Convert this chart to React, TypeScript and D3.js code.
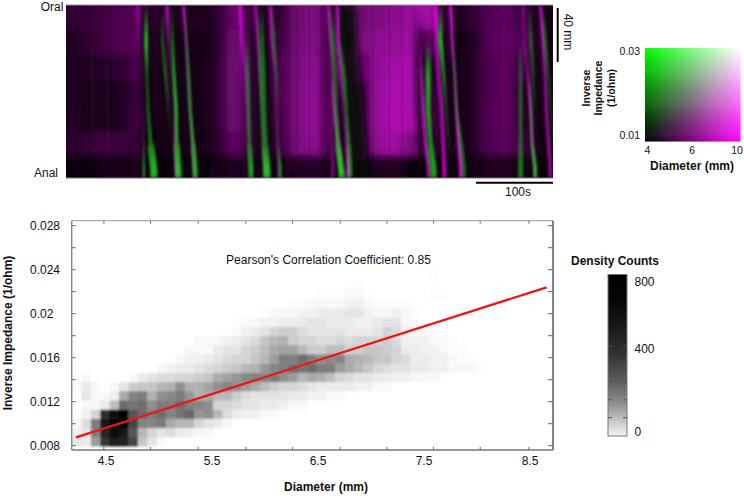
import { useEffect, useRef } from 'react';
import * as d3 from 'd3';

// ---- motility map (top panel) ----
const bgTimes = [10, 31, 52, 73, 94, 114, 135, 156, 177, 197, 218, 239, 260, 280, 301, 322, 343, 364, 384, 405, 426, 447, 468, 488, 509, 530, 551, 571, 592, 613];
const bgPositions = [9, 28, 47, 66, 85, 104, 120];
// magenta level (0-100) for each position row, one value per bgTimes entry
const bgMagenta = [
  [22, 26, 30, 36, 38, 20, 12, 12, 12, 18, 48, 30, 15, 22, 50, 58, 28, 20, 50, 56, 62, 70, 82, 20, 12, 22, 38, 42, 28, 10],
  [16, 22, 30, 36, 40, 15, 8, 8, 8, 16, 50, 28, 12, 28, 52, 60, 25, 15, 55, 64, 66, 72, 48, 15, 10, 12, 38, 44, 36, 10],
  [14, 16, 18, 22, 34, 12, 8, 8, 8, 18, 52, 28, 12, 35, 54, 64, 25, 15, 46, 66, 74, 78, 25, 12, 8, 15, 36, 44, 26, 8],
  [14, 13, 12, 14, 28, 12, 8, 8, 8, 18, 52, 26, 12, 36, 56, 66, 25, 10, 15, 68, 78, 78, 32, 12, 8, 15, 36, 44, 15, 8],
  [16, 13, 12, 14, 30, 12, 8, 8, 8, 18, 50, 26, 12, 32, 56, 68, 28, 8, 12, 70, 78, 78, 38, 12, 8, 15, 38, 44, 15, 8],
  [20, 24, 30, 26, 24, 10, 8, 8, 8, 16, 44, 24, 12, 26, 54, 64, 25, 8, 15, 66, 72, 56, 28, 12, 8, 15, 36, 42, 26, 8],
  [7, 7, 8, 10, 12, 8, 6, 6, 6, 8, 14, 12, 8, 8, 16, 18, 10, 6, 8, 14, 16, 4, 6, 8, 6, 8, 12, 12, 10, 6],
];
const streakTimes = [6, 14, 22, 30, 44, 58, 66, 80, 96, 104, 122, 150, 208, 246, 300, 316, 330, 398, 420, 436, 452, 530, 560, 582];

const trackPositions = [0, 26, 52, 78, 104, 122, 129];
// each track: seconds and strength (0-100) at trackPositions
const darkTracks = [
  { width: 18, bottomWidth: 18, times: [364, 366, 370, 374, 378, 381, 382], levels: [70, 80, 85, 90, 90, 80, 80] },
  { width: 12, bottomWidth: 12, times: [250, 252, 254, 256, 258, 260, 261], levels: [30, 60, 70, 70, 70, 70, 70] },
  { width: 12, bottomWidth: 12, times: [458, 460, 462, 464, 467, 470, 470], levels: [0, 40, 70, 80, 70, 60, 60] },
  { width: 10, bottomWidth: 10, times: [104, 105, 106, 108, 111, 114, 114], levels: [40, 60, 60, 60, 50, 40, 40] },
];
const magentaTracks = [
  { width: 3, bottomWidth: 3, times: [93.5, 94, 95, 96, 97, 98, 98], levels: [60, 15, 0, 0, 0, 0, 0] },
  { width: 3, bottomWidth: 3, times: [131, 132, 134, 136, 138, 140, 140], levels: [90, 30, 10, 0, 0, 0, 0] },
  { width: 2.5, bottomWidth: 3, times: [135, 136, 138, 140, 141, 143, 143], levels: [0, 0, 0, 10, 40, 70, 70] },
  { width: 2.5, bottomWidth: 3, times: [152, 156, 158, 161, 164, 166, 166.5], levels: [90, 50, 40, 40, 50, 70, 70] },
  { width: 4, bottomWidth: 4, times: [226, 228, 231, 233, 235, 236, 236], levels: [75, 60, 20, 10, 0, 0, 0] },
  { width: 3, bottomWidth: 3, times: [245.5, 248, 251, 254.5, 257, 258, 258], levels: [70, 45, 30, 30, 30, 65, 65] },
  { width: 3, bottomWidth: 2.5, times: [265, 266, 270, 272, 274.5, 276, 276], levels: [75, 45, 10, 10, 15, 30, 30] },
  { width: 2.5, bottomWidth: 3, times: [340, 342, 344, 348, 353, 357, 357], levels: [70, 30, 20, 70, 80, 90, 90] },
  { width: 2.5, bottomWidth: 3, times: [352, 353, 356, 360, 364, 366, 366], levels: [90, 90, 70, 30, 50, 90, 90] },
  { width: 2.5, bottomWidth: 2.5, times: [341, 342, 343, 344, 345, 346, 346], levels: [0, 0, 0, 20, 30, 60, 60] },
  { width: 3, bottomWidth: 3, times: [479, 480, 483, 487, 489.5, 491, 491], levels: [100, 60, 70, 70, 80, 90, 90] },
  { width: 3, bottomWidth: 3, times: [499, 501, 504, 506.5, 509, 512, 512], levels: [100, 70, 40, 60, 70, 90, 90] },
  { width: 2.5, bottomWidth: 2.5, times: [457, 459, 461, 463, 466, 470, 470], levels: [0, 0, 70, 90, 80, 80, 80] },
  { width: 2.5, bottomWidth: 2.5, times: [593.5, 595, 599, 603, 605, 608, 608], levels: [50, 30, 50, 90, 80, 70, 70] },
  { width: 2.5, bottomWidth: 2.5, times: [615.5, 618, 621, 623, 626, 628.5, 628.5], levels: [90, 70, 60, 70, 70, 80, 80] },
];
const greenTracks = [
  { width: 3.5, bottomWidth: 7, times: [104, 104, 105, 106.5, 110, 114, 114], levels: [0, 95, 30, 35, 55, 85, 85] },
  { width: 2, bottomWidth: 2.5, times: [101, 101, 101, 101, 101, 101, 101], levels: [0, 0, 0, 0, 15, 60, 60] },
  { width: 3, bottomWidth: 3, times: [125, 125, 129, 133, 136, 138, 138], levels: [0, 35, 45, 15, 0, 0, 0] },
  { width: 3.5, bottomWidth: 6, times: [137, 138, 140, 143, 144, 145.5, 147], levels: [0, 40, 70, 80, 65, 85, 85] },
  { width: 3.5, bottomWidth: 5, times: [154, 156, 159, 161, 165, 167.5, 168], levels: [0, 25, 50, 55, 65, 75, 75] },
  { width: 3.5, bottomWidth: 5, times: [234, 235, 236, 237, 238, 240, 240], levels: [0, 10, 50, 50, 50, 75, 75] },
  { width: 6, bottomWidth: 7, times: [253, 253.5, 255, 256, 258, 260.5, 261], levels: [0, 40, 50, 45, 45, 90, 90] },
  { width: 3, bottomWidth: 3.5, times: [269, 270, 273, 274, 275, 278, 278], levels: [0, 45, 30, 10, 15, 55, 55] },
  { width: 4.5, bottomWidth: 6, times: [343, 346, 349, 350, 353, 357, 358], levels: [0, 50, 40, 40, 65, 90, 90] },
  { width: 3, bottomWidth: 4, times: [355, 356, 361, 364, 367.5, 369, 369], levels: [0, 10, 55, 40, 50, 60, 60] },
  { width: 5, bottomWidth: 6, times: [470, 470, 470, 470, 473, 477, 477], levels: [0, 0, 75, 65, 55, 75, 75] },
  { width: 4, bottomWidth: 4, times: [486, 486, 490, 493, 497, 500, 500], levels: [0, 85, 45, 20, 10, 0, 0] },
  { width: 3, bottomWidth: 3.5, times: [500, 502, 505, 507, 513, 517, 517], levels: [0, 10, 30, 40, 50, 45, 45] },
  { width: 4, bottomWidth: 4, times: [601, 603, 606, 608, 610, 612, 612], levels: [0, 40, 25, 10, 0, 0, 0] },
  { width: 4, bottomWidth: 5, times: [590, 590, 590, 590, 590, 590, 590], levels: [0, 0, 35, 40, 40, 55, 55] },
  { width: 3, bottomWidth: 4, times: [598, 600, 602, 603, 605, 609, 609], levels: [0, 0, 0, 40, 50, 75, 75] },
  { width: 3, bottomWidth: 3, times: [620, 622, 626, 629, 631, 632, 632], levels: [0, 50, 30, 20, 10, 0, 0] },
  { width: 1.2, bottomWidth: 1.2, times: [34, 34, 34, 35, 36, 36, 36], levels: [0, 0, 20, 20, 0, 0, 0] },
  { width: 1.2, bottomWidth: 1.2, times: [52, 52, 53, 54, 55, 55, 55], levels: [0, 0, 15, 20, 10, 0, 0] },
];

// ---- colour key ----
const keyDiameterTicks = [4, 6, 10];
const keyImpedanceTicks = [0.03, 0.01];

// ---- density plot (bottom panel) ----
const xLabels = [4.5, 5.5, 6.5, 7.5, 8.5];
const xTickMarks = [4.48, 4.92, 5.37, 5.82, 6.26, 6.71, 7.15, 7.59, 8.03, 8.49];
const yLabels = [0.028, 0.024, 0.02, 0.016, 0.012, 0.008];
const yTickMarks = [0.028, 0.026, 0.024, 0.022, 0.02, 0.018, 0.016, 0.014, 0.012, 0.01, 0.008];
const fitDiameter = [4.217, 8.657];
const fitImpedance = [0.00876, 0.0224];
const barTicks = [0, 400, 800];
const barMarks = [100, 200, 300, 400, 500];

// counts / 10, bottom row first, one value per bin from the left edge
const densityRows = [
  [4, 3, 14, 45, 62, 56, 35, 8, 4, 1],
  [2, 4, 20, 55, 70, 65, 30, 10, 6, 4, 5, 3, 2, 1, 1],
  [1, 5, 20, 68, 80, 80, 35, 18, 18, 20, 12, 10, 10, 6, 4, 3, 1],
  [0, 2, 6, 50, 70, 78, 30, 25, 20, 24, 18, 22, 26, 15, 16, 10, 5, 3, 2, 2, 1, 1],
  [0, 1, 1, 3, 9, 25, 22, 24, 16, 20, 20, 24, 19, 18, 16, 6, 6, 5, 4, 4, 3, 3, 2, 1, 1],
  [0, 4, 1, 1, 2, 12, 18, 20, 11, 16, 17, 20, 15, 11, 12, 10, 10, 7, 5, 4, 4, 4, 4, 3, 3, 2, 2, 1, 1],
  [1, 3, 1, 0, 1, 4, 7, 8, 8, 10, 11, 16, 11, 11, 13, 16, 18, 16, 14, 12, 9, 7, 6, 6, 5, 4, 3, 3, 3, 3, 2, 2, 1, 1],
  [0, 1, 0, 0, 0, 0, 1, 3, 4, 5, 5, 6, 6, 7, 8, 12, 13, 15, 17, 18, 18, 20, 16, 14, 10, 12, 11, 9, 6, 5, 4, 4, 3, 3, 2, 2, 1, 1, 1, 0.5],
  [0, 0, 0, 0, 0, 0, 0, 0, 0, 1, 2, 3, 3, 4, 5, 6, 7, 8, 10, 11, 15, 18, 20, 24, 22, 24, 20, 20, 14, 12, 10, 8, 6, 5, 4, 4, 3, 3, 2, 2, 1, 1, 1, 0.5],
  [0, 0, 0, 0, 0, 0, 0, 0, 0, 0, 0, 1, 2, 2, 3, 4, 5, 6, 6, 8, 10, 14, 20, 19, 24, 20, 16, 17, 18, 12, 11, 10, 8, 8, 6, 5, 3, 3, 2, 2, 1, 0.5, 0.5],
  [0, 0, 0, 0, 0, 0, 0, 0, 0, 0, 0, 0, 1, 1, 1, 3, 4, 4, 6, 7, 9, 12, 13, 13, 10, 7, 7, 9, 9, 7, 7, 8, 8, 7, 6, 3, 3, 2, 2, 1, 0.5, 0.5],
  [0, 0, 0, 0, 0, 0, 0, 0, 0, 0, 0, 0, 0, 1, 1, 1, 2, 3, 4, 5, 8, 10, 11, 7, 6, 6, 5, 5, 6, 5, 6, 6, 6, 7, 5, 2, 2, 2, 1, 1, 0.5],
  [0, 0, 0, 0, 0, 0, 0, 0, 0, 0, 0, 0, 0, 0, 0, 0, 0, 1, 2, 3, 4, 6, 7, 7, 5, 4, 4, 4, 4, 3, 3, 3, 4, 6, 5, 2, 1, 1, 0.5],
  [0, 0, 0, 0, 0, 0, 0, 0, 0, 0, 0, 0, 0, 0, 0, 0, 0, 0.5, 1, 1, 2, 2, 3, 3, 3, 4, 4, 3, 3, 3, 2, 2, 3, 4, 4, 1, 0.5],
  [0, 0, 0, 0, 0, 0, 0, 0, 0, 0, 0, 0, 0, 0, 0, 0, 0, 0, 0, 0, 0.5, 1, 1, 1, 2, 2, 3, 3, 3, 4, 4, 2, 1, 1, 2, 1, 0.5],
  [0, 0, 0, 0, 0, 0, 0, 0, 0, 0, 0, 0, 0, 0, 0, 0, 0, 0, 0, 0, 0, 0, 0, 0.5, 0.5, 1, 1, 1, 1, 2, 2, 1, 0.5, 0.5, 0.5, 0.5],
  [0, 0, 0, 0, 0, 0, 0, 0, 0, 0, 0, 0, 0, 0, 0, 0, 0, 0, 0, 0, 0, 0, 0, 0, 0, 0, 0.5, 0.5, 0.5, 1, 1, 0.5, 0, 0, 0, 0, 0, 0, 0.5, 0.5],
  [0, 0, 0, 0, 0, 0, 0, 0, 0, 0, 0, 0, 0, 0, 0, 0, 0, 0, 0, 0, 0, 0, 0, 0, 0, 0, 0, 0, 0, 0.5, 0.5],
  [0, 0, 0, 0, 0, 0, 0, 0, 0, 0, 0, 0, 0, 0, 0, 0, 0, 0, 0, 0, 0, 0, 0, 0, 0, 0, 0, 0, 0, 0, 0, 0, 0, 0, 0, 0, 0, 0, 0.5],
];

const FONT = '"Liberation Sans", Arial, sans-serif';

export default function App() {
  const svgRef = useRef<SVGSVGElement>(null);

  useEffect(() => {
    if (!svgRef.current) return;
    const svg = d3.select(svgRef.current);
    svg.selectAll('*').remove();
    const defs = svg.append('defs');

    const addText = (x: number, y: number, text: string, size = 12, weight = 'normal', anchor = 'middle') =>
      svg.append('text')
        .attr('x', x)
        .attr('y', y)
        .attr('dy', '0.35em')
        .attr('text-anchor', anchor)
        .attr('font-family', FONT)
        .attr('font-size', size)
        .attr('font-weight', weight)
        .attr('fill', '#111')
        .text(text);

    // top panel
    const xTime = d3.scaleLinear().domain([0, 632]).range([66, 553]);
    const yPos = d3.scaleLinear().domain([0, 129]).range([5, 178]);
    const magenta = (v: number) => { const c = Math.round(v * 2.2); return `rgb(${c},${Math.round(c * 0.06)},${Math.round(c * 1.02)})`; };

    defs.append('clipPath').attr('id', 'map-clip').append('rect')
      .attr('x', 66).attr('y', 5).attr('width', 487).attr('height', 173);
    const addBlur = (id: string, dev: string) =>
      defs.append('filter').attr('id', id).attr('filterUnits', 'userSpaceOnUse')
        .attr('x', 40).attr('y', -20).attr('width', 540).attr('height', 230)
        .append('feGaussianBlur').attr('stdDeviation', dev);
    addBlur('blur-bg', '6 3.5');
    addBlur('blur-track', '0.9 2.5');
    addBlur('blur-dark', '3 5');

    const map = svg.append('g').attr('clip-path', 'url(#map-clip)');
    map.append('rect').attr('x', 66).attr('y', 5).attr('width', 487).attr('height', 173).attr('fill', '#140a16');

    const bgLayer = map.append('g').attr('filter', 'url(#blur-bg)');
    const colStep = xTime(bgTimes[1]) - xTime(bgTimes[0]);
    bgMagenta.forEach((row, r) => {
      const y0 = r === 0 ? yPos(0) - 20 : yPos((bgPositions[r - 1] + bgPositions[r]) / 2);
      const y1 = r === bgMagenta.length - 1 ? yPos(129) + 20 : yPos((bgPositions[r] + bgPositions[r + 1]) / 2);
      bgLayer.selectAll(null)
        .data(row)
        .enter()
        .append('rect')
        .attr('x', (_, i) => xTime(bgTimes[i]) - colStep / 2 - (i === 0 ? 20 : 0.5))
        .attr('y', y0)
        .attr('width', (_, i) => colStep + (i === 0 || i === row.length - 1 ? 20 : 1))
        .attr('height', y1 - y0 + 0.5)
        .attr('fill', d => magenta(d));
    });

    map.selectAll('.streak')
      .data(streakTimes)
      .enter()
      .append('line')
      .attr('class', 'streak')
      .attr('x1', d => xTime(d))
      .attr('x2', d => xTime(d))
      .attr('y1', 5)
      .attr('y2', 178)
      .attr('stroke', '#000')
      .attr('stroke-opacity', 0.14)
      .attr('stroke-width', 1.2);

    // every track is cut in short pieces so the strength can change along it
    const drawTrack = (
      layer: d3.Selection<SVGGElement, unknown, null, undefined>,
      t: { width: number; bottomWidth: number; times: number[]; levels: number[] },
      color: string,
    ) => {
      const line = d3.line<number[]>().x(d => xTime(d[0])).y(d => yPos(d[1]));
      t.times.slice(1).forEach((time, i) => {
        const pieces = 4;
        d3.range(pieces).forEach(p => {
          const f0 = p / pieces, f1 = (p + 1) / pieces;
          const lv = t.levels[i] + (t.levels[i + 1] - t.levels[i]) * (f0 + f1) / 2;
          if (lv <= 0) return;
          const a = t.times[i], pa = trackPositions[i], pb = trackPositions[i + 1];
          layer.append('path')
            .attr('d', line([
              [a + (time - a) * f0, pa + (pb - pa) * f0],
              [a + (time - a) * f1, pa + (pb - pa) * f1 + 0.2],
            ]))
            .attr('fill', 'none')
            .attr('stroke', color)
            .attr('stroke-opacity', lv / 100)
            .attr('stroke-width', i >= 4 ? t.bottomWidth : t.width);
        });
      });
    };

    const darkLayer = map.append('g').attr('filter', 'url(#blur-dark)');
    darkTracks.forEach(t => drawTrack(darkLayer as any, t, '#080a08'));
    const trackLayer = map.append('g').attr('filter', 'url(#blur-track)');
    magentaTracks.forEach(t => drawTrack(trackLayer as any, t, '#f000f4'));
    greenTracks.forEach(t => drawTrack(trackLayer as any, t, '#24d424'));

    // frame of the map
    svg.append('line').attr('x1', 66).attr('x2', 553).attr('y1', 5).attr('y2', 5).attr('stroke', '#999').attr('stroke-width', 1);
    svg.append('line').attr('x1', 66).attr('x2', 553).attr('y1', 178).attr('y2', 178).attr('stroke', '#777').attr('stroke-width', 1);

    addText(52, 7, 'Oral');
    addText(46, 173, 'Anal');

    const lengthBar = d3.scaleLinear().domain([0, 40]).range([8, 62]);
    svg.append('line').attr('x1', 557.7).attr('x2', 557.7).attr('y1', lengthBar(0)).attr('y2', lengthBar(40)).attr('stroke', '#000').attr('stroke-width', 2);
    svg.append('text').attr('transform', 'translate(568,32) rotate(90)').attr('dy', '0.35em').attr('text-anchor', 'middle')
      .attr('font-family', FONT).attr('font-size', 12).attr('fill', '#111').text('40 mm');
    svg.append('line').attr('x1', xTime(532)).attr('x2', xTime(632)).attr('y1', 182.7).attr('y2', 182.7).attr('stroke', '#000').attr('stroke-width', 2);
    addText(518, 192, '100s');

    // colour key
    const keyX = d3.scaleLinear().domain([0, 1]).range([645, 740]);
    const keyY = d3.scaleLinear().domain([0, 1]).range([141, 48]);
    const steps = d3.range(0, 1, 1 / 48);
    const key = svg.append('g');
    steps.forEach(u => {
      key.selectAll(null)
        .data(steps)
        .enter()
        .append('rect')
        .attr('x', keyX(u))
        .attr('y', v => keyY(v + 1 / 48))
        .attr('width', keyX(1 / 48) - keyX(0) + 0.5)
        .attr('height', keyY(0) - keyY(1 / 48) + 0.5)
        .attr('fill', v => `rgb(${Math.round((u + 0.01) * 255)},${Math.round((v + 0.01) * 255)},${Math.round((u + 0.01) * 255)})`);
    });
    const keyTickY = d3.scaleLinear().domain([0.01, 0.03]).range([135, 51]);
    keyImpedanceTicks.forEach(t => addText(640, keyTickY(t), `${t}`, 10.5, 'normal', 'end'));
    const keyTickX = d3.scalePoint<number>().domain(keyDiameterTicks).range([647.5, 737]);
    keyDiameterTicks.forEach(t => addText(keyTickX(t) as number, 150, `${t}`, 10.5));
    addText(692, 166, 'Diameter (mm)', 12, 'bold');
    ['Inverse', 'Impedance', '(1/ohm)'].forEach((s, i) => {
      svg.append('text').attr('transform', `translate(${586 + i * 12.5},88) rotate(-90)`).attr('dy', '0.35em')
        .attr('text-anchor', 'middle').attr('font-family', FONT).attr('font-size', 10.5).attr('font-weight', 'bold')
        .attr('fill', '#111').text(s);
    });

    // density plot
    const x = d3.scaleLinear().domain([4.5, 8.5]).range([106, 530]);
    const y = d3.scaleLinear().domain([0.008, 0.028]).range([445.7, 225.7]);
    const left = 71.7, right = 553, top = 220.7, bottom = 450;
    const gray = d3.scaleLinear<string>()
      .domain([0, 1, 4, 9, 17, 35, 80])
      .range(['#ffffff', '#f8f8f8', '#e4e4e4', '#bebebe', '#888888', '#444444', '#000000']);

    defs.append('filter').attr('id', 'blur-cells').attr('filterUnits', 'userSpaceOnUse')
      .attr('x', 60).attr('y', 210).attr('width', 510).attr('height', 250)
      .append('feGaussianBlur').attr('stdDeviation', 0.9);
    const binW = 0.0887, binH = 0.000836, binX0 = x.invert(left + 0.3), binY0 = 0.00797;
    const cells = svg.append('g').attr('filter', 'url(#blur-cells)');
    densityRows.forEach((row, r) => {
      cells.selectAll(null)
        .data(row)
        .enter()
        .append('rect')
        .attr('x', (_, c) => x(binX0 + c * binW))
        .attr('y', y(binY0 + (r + 1) * binH))
        .attr('width', x(binW) - x(0) + 0.4)
        .attr('height', y(0) - y(binH) + 0.4)
        .attr('fill', d => gray(d));
    });

    svg.append('line')
      .attr('x1', x(fitDiameter[0])).attr('y1', y(fitImpedance[0]))
      .attr('x2', x(fitDiameter[1])).attr('y2', y(fitImpedance[1]))
      .attr('stroke', '#f01414').attr('stroke-width', 2.3);

    const tick = (x1: number, y1: number, x2: number, y2: number, c = '#666') =>
      svg.append('line').attr('x1', x1).attr('y1', y1).attr('x2', x2).attr('y2', y2).attr('stroke', c).attr('stroke-width', 1);
    xTickMarks.forEach(t => {
      tick(x(t), bottom, x(t), bottom - 3);
      tick(x(t), top, x(t), top + 3);
    });
    yTickMarks.forEach(t => {
      tick(left, y(t), left + 4, y(t));
      tick(right, y(t), right - 5, y(t));
    });
    svg.append('line').attr('x1', left).attr('x2', right).attr('y1', top).attr('y2', top).attr('stroke', '#aaa').attr('stroke-width', 1.2);
    svg.append('line').attr('x1', left).attr('x2', right).attr('y1', bottom).attr('y2', bottom).attr('stroke', '#777').attr('stroke-width', 1.4);
    svg.append('line').attr('x1', left).attr('x2', left).attr('y1', top).attr('y2', bottom).attr('stroke', '#888').attr('stroke-width', 1.4);
    svg.append('line').attr('x1', right).attr('x2', right).attr('y1', top).attr('y2', bottom).attr('stroke', '#666').attr('stroke-width', 1.6);

    xLabels.forEach(t => addText(x(t), 461, `${t}`));
    yLabels.forEach(t => addText(30, y(t), `${t}`, 12, 'normal', 'start'));
    addText(328.5, 260, "Pearson's Correlation Coefficient: 0.85", 12);
    addText(326, 487, 'Diameter (mm)', 12, 'bold');
    svg.append('text').attr('transform', 'translate(7.5,333) rotate(-90)').attr('dy', '0.35em').attr('text-anchor', 'middle')
      .attr('font-family', FONT).attr('font-size', 12).attr('font-weight', 'bold').attr('fill', '#111').text('Inverse Impedance (1/ohm)');

    // density colour bar
    addText(615, 261, 'Density Counts', 12, 'bold');
    const barGrad = defs.append('linearGradient').attr('id', 'bar-grad').attr('x1', '0%').attr('y1', '100%').attr('x2', '0%').attr('y2', '0%');
    [[0, '#f4f4f4'], [0.1, '#c4c4c4'], [0.2, '#8f8f8f'], [0.33, '#606060'], [0.5, '#333333'], [0.7, '#161616'], [0.85, '#050505'], [1, '#000000']]
      .forEach(([o, c]) => barGrad.append('stop').attr('offset', o as number).attr('stop-color', c as string));
    svg.append('rect').attr('x', 608).attr('y', 274.5).attr('width', 19).attr('height', 161.5)
      .attr('fill', 'url(#bar-grad)').attr('stroke', '#777').attr('stroke-width', 1);
    const barY = d3.scaleLinear().domain([0, 400, 800]).range([432, 349, 282]);
    barTicks.forEach(t => addText(634.5, barY(t), `${t}`, 12, 'normal', 'start'));
    const barMarkY = d3.scaleLinear().domain([100, 500]).range([417.7, 346]);
    barMarks.forEach(m => {
      tick(608, barMarkY(m), 612, barMarkY(m), '#555');
      tick(627, barMarkY(m), 623, barMarkY(m), '#555');
    });
  }, []);

  return (
    <svg
      ref={svgRef}
      width={744}
      height={496}
      style={{ position: 'absolute', left: 0, top: 0, background: '#fff' }}
    />
  );
}
